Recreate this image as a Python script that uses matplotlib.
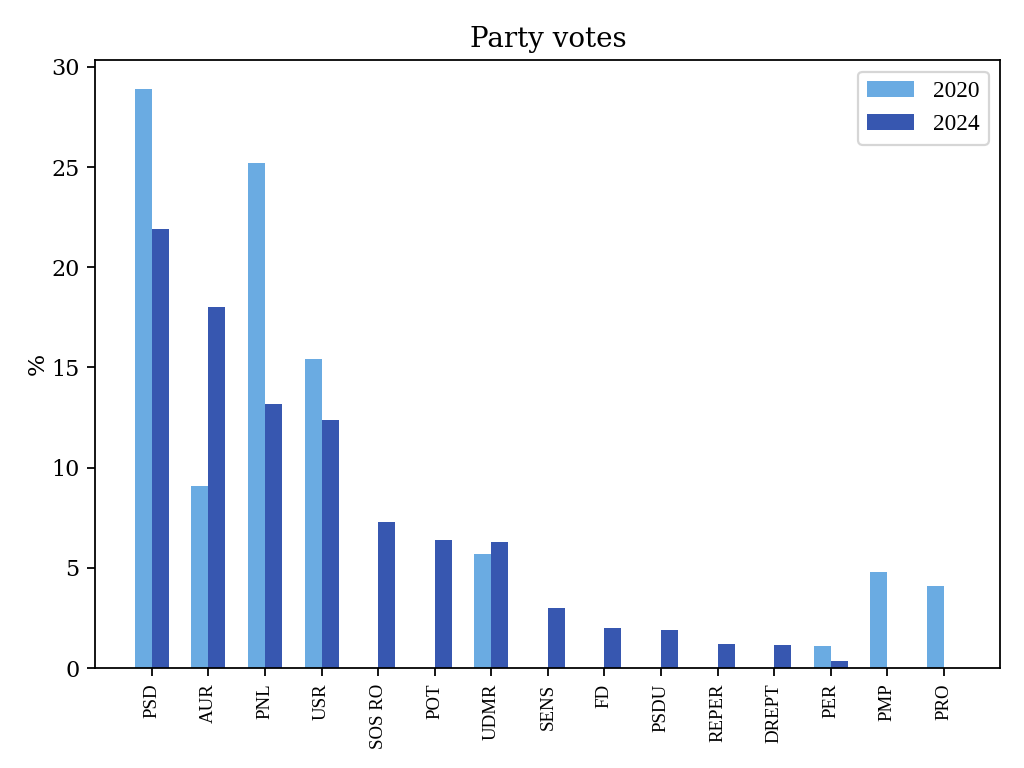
import matplotlib
matplotlib.use("Agg")
import matplotlib.pyplot as plt
import numpy as np

parties = ["PSD", "AUR", "PNL", "USR", "SOS RO", "POT", "UDMR", "SENS", "FD",
           "PSDU", "REPER", "DREPT", "PER", "PMP", "PRO"]
votes_2020 = [28.9, 9.1, 25.2, 15.4, 0, 0, 5.7, 0, 0, 0, 0, 0, 1.1, 4.8, 4.1]
votes_2024 = [21.9, 18.0, 13.2, 12.4, 7.3, 6.4, 6.3, 3.0, 2.0, 1.9, 1.2, 1.15, 0.35, 0, 0]

c2020 = "#6AABE2"
c2024 = "#3757B0"

fig = plt.figure(figsize=(6.4, 4.8), dpi=160)
ax = fig.add_axes([0.093, 0.130, 0.884, 0.792])
x = np.arange(len(parties))
w = 0.3
ax.bar(x - w / 2, votes_2020, w, color=c2020, label="2020")
ax.bar(x + w / 2, votes_2024, w, color=c2024, label="2024")
ax.set_xlim(-1, 15)
ax.set_xticks(x)
ax.set_xticklabels(parties, rotation=90, fontsize=8.5, family="Liberation Serif")
for lab in ax.get_yticklabels():
    lab.set_family("DejaVu Serif")
    lab.set_fontsize(10)
ax.tick_params(axis="y", labelsize=10)
ax.set_ylabel("%", family="DejaVu Serif", fontsize=10.5, labelpad=1)
ax.set_title("Party votes", family="DejaVu Serif", fontsize=12.5)
ax.legend(prop={"family": "Liberation Serif", "size": 10.5}, loc="upper right")
fig.savefig("out.png", dpi=160)
